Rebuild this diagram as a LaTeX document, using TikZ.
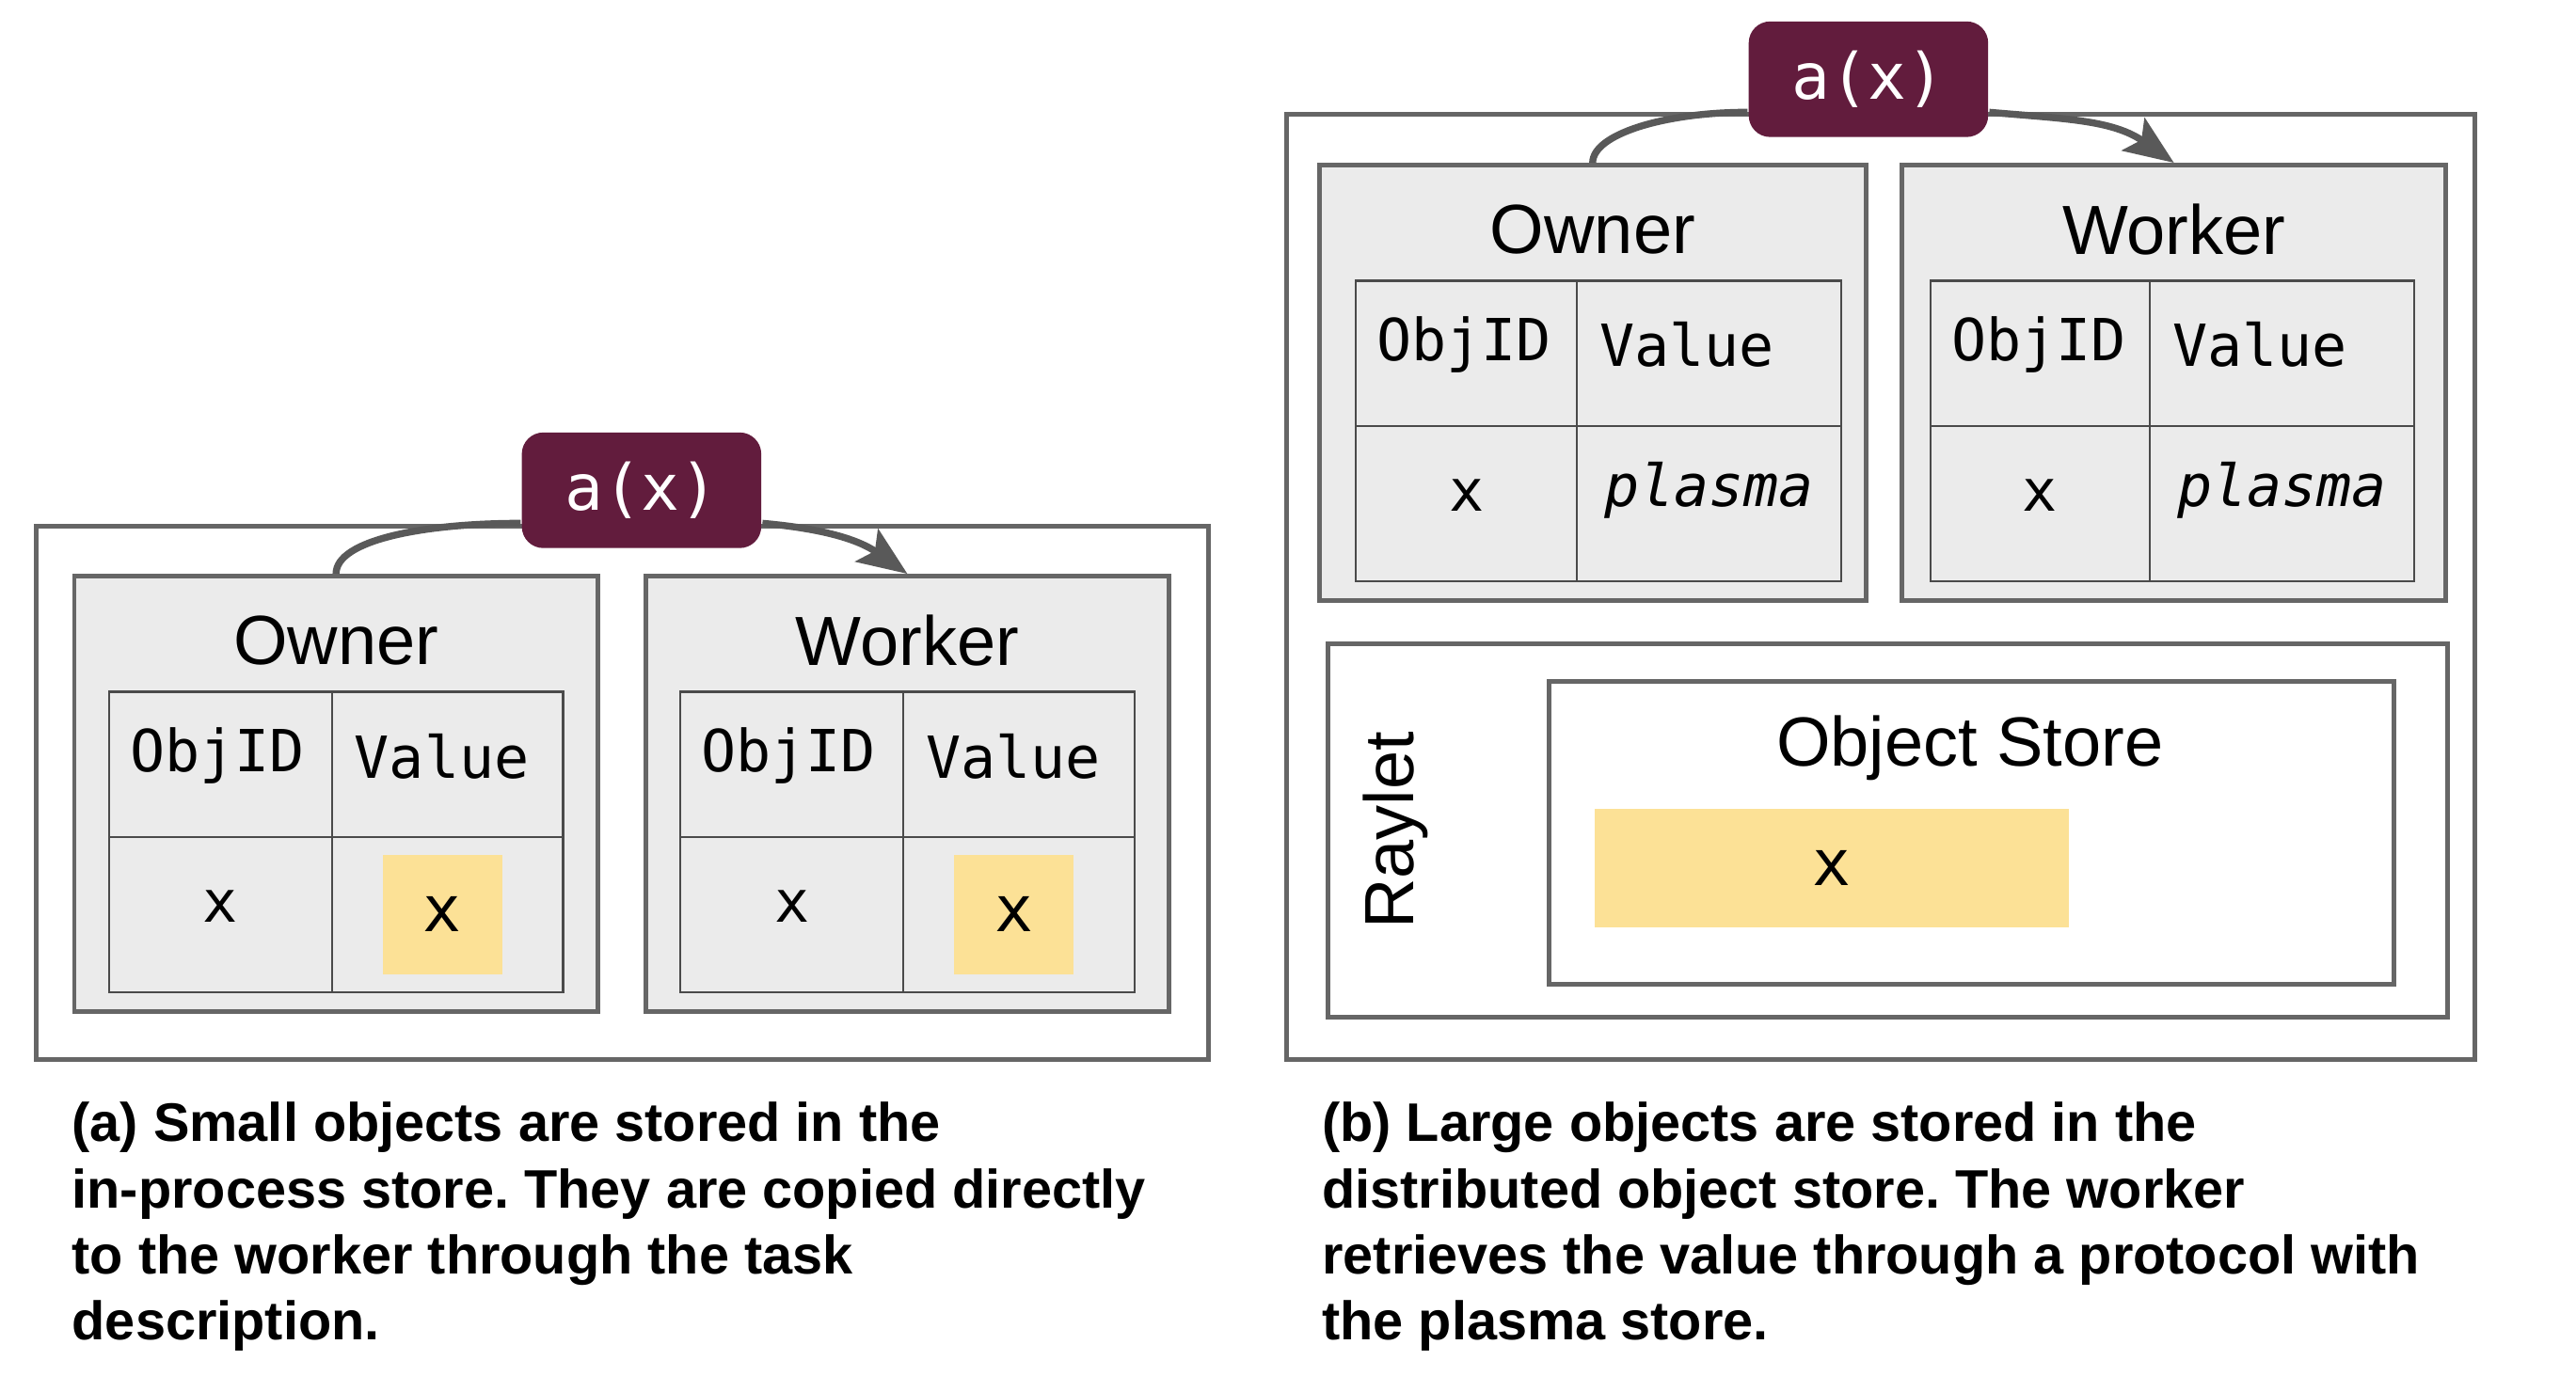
\documentclass[tikz,border=0pt]{standalone}
\usepackage{fontspec}
\setmainfont{Liberation Sans}
\newfontfamily\codefont{DejaVu Sans Mono}
\usetikzlibrary{arrows.meta}
\definecolor{boxline}{HTML}{666666}
\definecolor{boxfill}{HTML}{EBEBEB}
\definecolor{gridline}{HTML}{4A4A4A}
\definecolor{valuefill}{HTML}{FCE196}
\definecolor{callfill}{HTML}{621C3D}
\definecolor{flowline}{HTML}{595959}
\frenchspacing
\begin{document}
\begin{tikzpicture}
[x=0.1mm,y=0.1mm,
 framedecorate/.style={shape=rectangle,draw=boxline,line width=0.8pt,fill=white,inner sep=0pt},
 procdecorate/.style={framedecorate,fill=boxfill},
 calldecorate/.style={shape=rectangle,rounded corners=1.3mm,fill=callfill,text=white,inner sep=0pt,
   minimum width=14.5mm,minimum height=7mm,font=\codefont\fontsize{11}{13}\selectfont},
 valuedecorate/.style={shape=rectangle,fill=valuefill,inner sep=0pt},
 titledecorate/.style={font=\fontsize{12}{14}\selectfont,inner sep=0pt},
 codedecorate/.style={font=\codefont\fontsize{10}{12}\selectfont,inner sep=0pt},
 griddecorate/.style={draw=gridline,line width=0.4pt},
 linedecorate/.style={draw=flowline,line width=1.2pt},
 captiondecorate/.style={font=\bfseries\fontsize{9.35}{11.4}\selectfont,align=left,anchor=north west,inner sep=0pt}]
\fill[white] (0,0) rectangle (1560,833);
\useasboundingbox (0,0) rectangle (1560,833);
%% frames
\node (frameA) at (377,352.5) [framedecorate,minimum width=71mm,minimum height=32.3mm] {};
\node (frameB) at (1139,477.5) [framedecorate,minimum width=72mm,minimum height=57.3mm] {};
\node (rayletB) at (1143,330) [framedecorate,minimum width=67.8mm,minimum height=22.6mm] {};
\node (storeB) at (1194,328.5) [framedecorate,minimum width=51.2mm,minimum height=18.3mm] {};
%% owner and worker processes
\foreach \nodename/\x/\y/\w/\title in {ownerA/203.5/352/31.7/Owner, workerA/549.5/352/31.7/Worker,
  ownerB/964.5/601/33.1/Owner, workerB/1316.5/601/32.9/Worker}
{
  \node (\nodename) at (\x,\y) [procdecorate,minimum width=\w mm,minimum height=26.4mm] {};
  \node (\nodename-title) at (\x,\y+93) [titledecorate] {\title};
}
%% in-process store tables
\foreach \tabname/\l/\m/\r/\t in {ownerA/66/201/341/414, workerA/412/547/687/414,
  ownerB/821/955/1115/663, workerB/1169/1302/1462/663}
{
  \draw[griddecorate] (\l,\t) rectangle (\r,\t-182) (\m,\t) -- (\m,\t-182) (\l,\t-88) -- (\r,\t-88);
  \node (\tabname-key) at (\l+12,\t-39) [codedecorate,anchor=west] {ObjID};
  \node (\tabname-head) at (\m+13,\t-39) [codedecorate,anchor=west] {Value};
  \node (\tabname-id) at ({(\l+\m)/2},\t-130) [codedecorate] {x};
}
\foreach \tabname/\x in {ownerA/268, workerA/614}
{
  \node (\tabname-value) at (\x,279) [valuedecorate,minimum width=7.2mm,minimum height=7.2mm,
    codedecorate,font=\codefont\fontsize{11}{13}\selectfont] {x};
}
\foreach \tabname/\x in {ownerB/1035, workerB/1382}
{
  \node (\tabname-value) at (\x,536) [codedecorate,font=\codefont\itshape\fontsize{10}{12}\selectfont] {plasma};
}
%% raylet and object store
\node (rayletB-title) at (845,330) [titledecorate,rotate=90] {Raylet};
\node (storeB-title) at (1193,380) [titledecorate] {Object Store};
\node (storeB-value) at (1109.5,307) [valuedecorate,minimum width=28.7mm,minimum height=7.2mm,
  codedecorate,font=\codefont\fontsize{11}{13}\selectfont] {x};
%% task calls
\node (callA) at (388.5,536) [calldecorate] {a(x)};
\node (callB) at (1131.5,785) [calldecorate] {a(x)};
\foreach \callname/\startnode/\endnode in {callA/ownerA/workerA, callB/ownerB/workerB}
{
  \draw[linedecorate] (\startnode.north)
    to[out=90,in=180,out looseness=0.45,in looseness=1.3] ([yshift=-2mm]\callname.west);
  \draw[linedecorate,-{Stealth[length=3mm,width=2.4mm,inset=0.6mm]}] ([yshift=-2mm]\callname.east)
    to[out=-5,in=145] (\endnode.north);
}
%% captions
\node (captionA) at (43,166) [captiondecorate] {(a) Small objects are stored in the\\
  in-process store. They are copied directly\\to the worker through the task\\description.};
\node (captionB) at (800,166) [captiondecorate] {(b) Large objects are stored in the\\
  distributed object store. The worker\\retrieves the value through a protocol with\\the plasma store.};
\end{tikzpicture}
\end{document}
